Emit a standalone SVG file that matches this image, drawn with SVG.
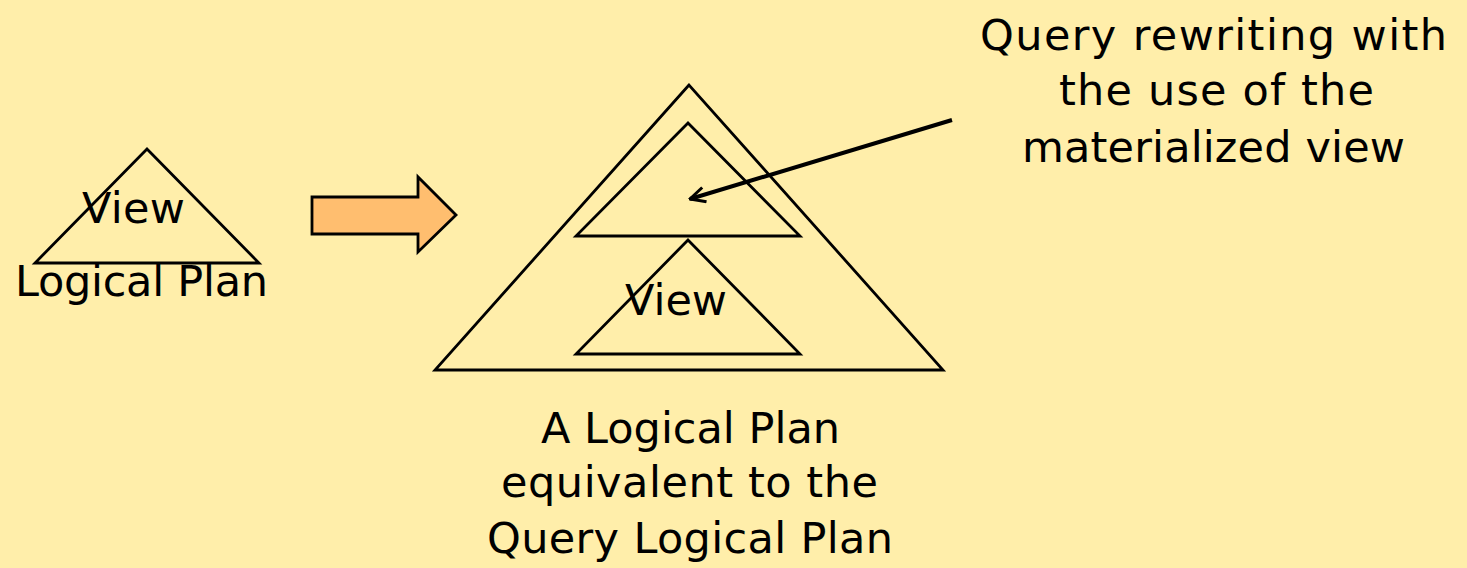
<svg xmlns="http://www.w3.org/2000/svg" width="1467" height="568" viewBox="0 0 1467 568">
<style>
.tri{fill:none;stroke:#000;stroke-width:2.8;stroke-linejoin:miter}
.t{font-family:"DejaVu Sans","Noto Sans",sans-serif;font-size:43px;fill:#000}
.c{text-anchor:middle}
</style>
<defs>
<marker id="ah" viewBox="0 0 12 12" refX="11" refY="6" markerWidth="4.5" markerHeight="4.5" orient="auto" markerUnits="strokeWidth">
<path d="M1,1 L11,6 L1,11" fill="none" stroke="#000" stroke-width="2"/>
</marker>
</defs>
<rect width="1467" height="568" fill="#FFEEAA"/>
<g id="view-plan">
<polygon class="tri" points="147,149 35,263 259,263"/>
<text class="t" x="82" y="223" textLength="103">View</text>
<text class="t" x="15" y="296" textLength="253">Logical Plan</text>
</g>
<g id="transform-arrow">
<polygon points="312,197 418,197 418,177 456,215 418,252 418,234 312,234" fill="#FFBE6F" stroke="#000" stroke-width="2.8"/>
</g>
<g id="rewritten-plan">
<polygon class="tri" points="689,85 435,370 943,370"/>
<polygon class="tri" points="688,123 576,236 800,236"/>
<polygon class="tri" points="688,240 576,354 800,354"/>
<text class="t" x="625" y="315" textLength="102">View</text>
</g>
<g id="caption-top">
<text class="t" x="980" y="50" textLength="467">Query rewriting with</text>
<text class="t" x="1059" y="105" textLength="315">the use of the</text>
<text class="t" x="1022" y="162" textLength="383">materialized view</text>
</g>
<g id="caption-bottom">
<text class="t" x="541" y="443" textLength="299">A Logical Plan</text>
<text class="t" x="501" y="497" textLength="377">equivalent to the</text>
<text class="t" x="487" y="553" textLength="406">Query Logical Plan</text>
</g>
<g id="connectors">
<line x1="952" y1="120" x2="690" y2="199" stroke="#000" stroke-width="4" marker-end="url(#ah)"/>
</g>
</svg>
